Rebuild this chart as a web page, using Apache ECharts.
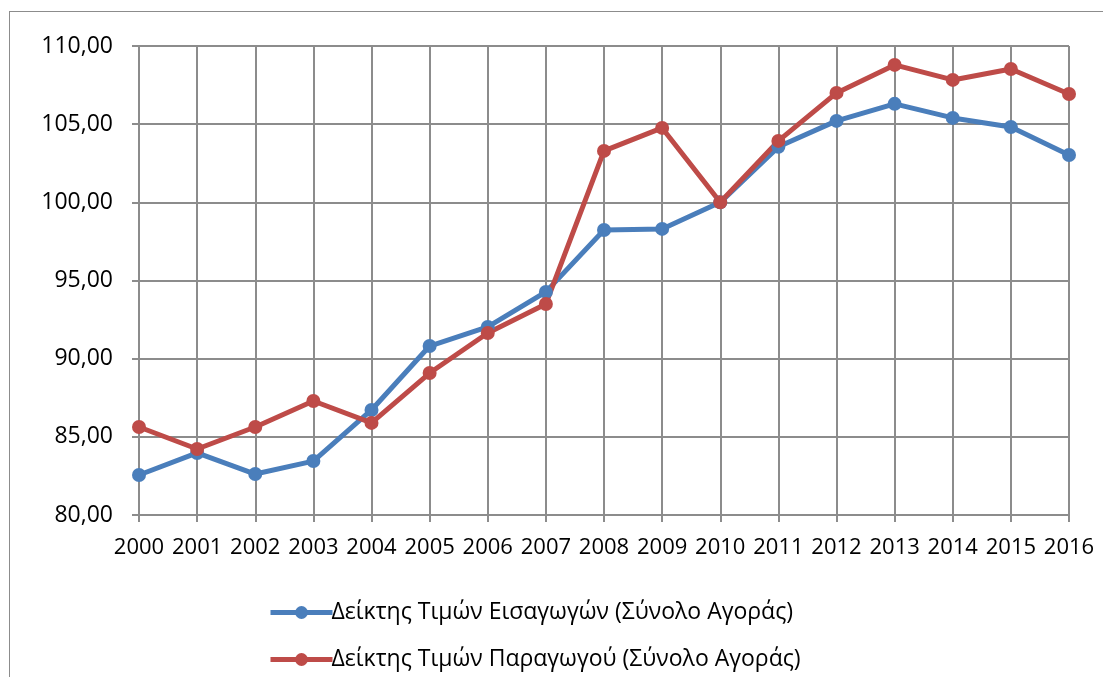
<!DOCTYPE html>
<html>
<head>
<meta charset="utf-8">
<script src="https://cdn.jsdelivr.net/npm/echarts@6/dist/echarts.min.js"></script>
<style>
  html, body { margin: 0; padding: 0; background: #fff; }
  #frame {
    position: absolute; left: 9px; top: 11px; width: 1200px; height: 800px;
    border: 1px solid #8c8c8c; box-sizing: border-box;
  }
  #chart { position: absolute; left: 0; top: 0; width: 1103px; height: 677px; }
</style>
</head>
<body>
<div id="frame"></div>
<div id="chart"></div>
<script>
// years on x axis
const years = ['2000','2001','2002','2003','2004','2005','2006','2007','2008',
  '2009','2010','2011','2012','2013','2014','2015','2016']
// import price index
const importIdx = [82.56, 83.97, 82.62, 83.45, 86.72, 90.81, 92.03, 94.27, 98.23,
  98.30, 100.00, 103.55, 105.21, 106.30, 105.40, 104.82, 103.03]
// producer price index
const producerIdx = [85.63, 84.22, 85.63, 87.29, 85.89, 89.08, 91.64, 93.50, 103.29,
  104.76, 100.00, 103.93, 107.00, 108.79, 107.83, 108.53, 106.93]
const seriesNames = ['Δείκτης Τιμών Εισαγωγών (Σύνολο Αγοράς)', 'Δείκτης Τιμών Παραγωγού (Σύνολο Αγοράς)']

const fontFam = '"Open Sans", "DejaVu Sans", sans-serif'
const gridColor = '#8c8c8c'

let myChart = echarts.init(document.getElementById('chart'))
myChart.setOption({
  animation: false,
  grid: { left: 139, right: 34, top: 46, bottom: 162 },
  legend: {
    orient: 'vertical',
    left: 268,
    top: 601,
    padding: 0,
    itemWidth: 62,
    itemHeight: 16,
    itemGap: 24,
    lineStyle: { width: 5 },
    textStyle: { fontFamily: fontFam, fontSize: 23, color: '#000', padding: [0, 0, 0, -6] },
    data: seriesNames,
  },
  xAxis: {
    type: 'category',
    data: years,
    boundaryGap: false,
    axisLine: { lineStyle: { color: gridColor, width: 2 } },
    axisTick: { show: true, length: 7, lineStyle: { color: gridColor, width: 2 } },
    axisLabel: { fontFamily: fontFam, fontSize: 22, color: '#000', margin: 22, interval: 0 },
    splitLine: { show: true, lineStyle: { color: gridColor, width: 2 } },
  },
  yAxis: {
    type: 'value',
    min: 80,
    max: 110,
    interval: 5,
    axisLine: { show: true, lineStyle: { color: gridColor, width: 2 } },
    axisTick: { show: true, length: 7, lineStyle: { color: gridColor, width: 2 } },
    axisLabel: {
      fontFamily: fontFam, fontSize: 23, color: '#000', margin: 26,
      formatter: v => v.toFixed(2).replace('.', ','),
    },
    splitLine: { show: true, lineStyle: { color: gridColor, width: 2 } },
  },
  series: [
    {
      name: seriesNames[0],
      type: 'line',
      data: importIdx,
      symbol: 'circle',
      symbolSize: 14,
      lineStyle: { width: 5, color: '#4a7ebb' },
      itemStyle: { color: '#4a7ebb' },
    },
    {
      name: seriesNames[1],
      type: 'line',
      data: producerIdx,
      symbol: 'circle',
      symbolSize: 14,
      lineStyle: { width: 5, color: '#be4b48' },
      itemStyle: { color: '#be4b48' },
    },
  ],
})
</script>
</body>
</html>
